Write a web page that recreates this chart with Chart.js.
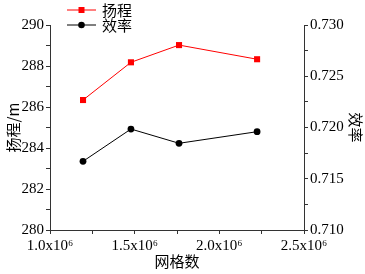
<!DOCTYPE html>
<html>
<head>
<meta charset="utf-8">
<script src="https://cdn.jsdelivr.net/npm/chart.js@4"></script>
<style>
  html,body{margin:0;padding:0;background:#fff;}
  #wrap{width:365px;height:274px;position:relative;}
</style>
</head>
<body>
<div id="wrap"><canvas id="chart"></canvas></div>
<script>
// grid counts and results
const gridCounts = [1.195e6, 1.478e6, 1.762e6, 2.223e6];
const headValues = [286.34, 288.18, 289.02, 288.33];
const effValues = [0.7167, 0.71985, 0.71846, 0.71959];
const seriesNames = ['扬程', '效率'];
const axisTitles = {x: '网格数', y: '扬程/m', y2: '效率'};

const serif = "'Liberation Serif', 'DejaVu Serif', serif";
const cjk = "'Noto Sans CJK SC', sans-serif";

// legend drawn as line + marker like the original
const legendPlugin = {
  id: 'lineLegend',
  afterDraw(chart){
    const ctx = chart.ctx;
    const items = chart.data.datasets;
    ctx.save();
    items.forEach((ds, i) => {
      const y = 10 + i * 15;
      ctx.strokeStyle = ds.borderColor;
      ctx.lineWidth = 1;
      ctx.beginPath();
      ctx.moveTo(67, y); ctx.lineTo(96, y);
      ctx.stroke();
      ctx.fillStyle = ds.pointBackgroundColor;
      ctx.beginPath();
      if(ds.pointStyle === 'rect') ctx.rect(81.5 - 3, y - 3, 6, 6);
      else ctx.arc(81.5, y, 3.3, 0, Math.PI * 2);
      ctx.fill();
      ctx.fillStyle = '#000';
      ctx.font = '15px ' + cjk;
      ctx.textBaseline = 'middle';
      ctx.fillText(ds.label, 102, y);
    });
    ctx.restore();
  }
};

const toPts = (ys) => gridCounts.map((x, i) => ({x: x, y: ys[i]}));

new Chart(document.getElementById('chart'), {
  type: 'scatter',
  data: {
    datasets: [{
      label: seriesNames[0],
      data: toPts(headValues),
      yAxisID: 'y',
      showLine: true,
      borderColor: '#ff0000',
      backgroundColor: '#ff0000',
      pointBackgroundColor: '#ff0000',
      pointBorderWidth: 0,
      pointStyle: 'rect',
      pointRadius: 4.3,
      borderWidth: 1
    },{
      label: seriesNames[1],
      data: toPts(effValues),
      yAxisID: 'y2',
      showLine: true,
      borderColor: '#000',
      backgroundColor: '#000',
      pointBackgroundColor: '#000',
      pointBorderWidth: 0,
      pointStyle: 'circle',
      pointRadius: 3.4,
      borderWidth: 1
    }]
  },
  options: {
    responsive: true,
    maintainAspectRatio: false,
    animation: false,
    layout: {padding: {top: 25, left: 0, right: 0, bottom: 0}},
    plugins: {legend: {display: false}, tooltip: {enabled: false}},
    scales: {
      x: {
        type: 'linear', min: 1e6, max: 2.5e6,
        afterFit(s){ s.height = 44; },
        border: {color: '#333', width: 1},
        grid: {drawOnChartArea: false, tickLength: 4, color: '#333'},
        ticks: {
          stepSize: 250000, maxRotation: 0, padding: 3, autoSkip: false,
          color: '#000', font: {family: serif, size: 15},
          callback: v => (v % 500000 === 0) ? (v / 1e6).toFixed(1) + 'x10⁶' : ''
        },
        title: {display: true, text: axisTitles.x, color: '#000', font: {family: cjk, size: 15}, padding: {top: 2}}
      },
      y: {
        position: 'left', min: 280, max: 290,
        afterFit(s){ s.width = 50; },
        border: {color: '#333', width: 1},
        grid: {drawOnChartArea: false, tickLength: 4, color: '#333'},
        ticks: {
          stepSize: 1, padding: 2, autoSkip: false,
          color: '#000', font: {family: serif, size: 15},
          callback: v => (v % 2 === 0) ? String(v) : ''
        },
        title: {display: true, text: axisTitles.y, color: '#000', font: {family: cjk, size: 15}, padding: {bottom: 0}}
      },
      y2: {
        position: 'right', min: 0.71, max: 0.73,
        afterFit(s){ s.width = 61; },
        border: {color: '#333', width: 1},
        grid: {drawOnChartArea: false, tickLength: 4, color: '#333'},
        ticks: {
          stepSize: 0.0025, padding: 2, autoSkip: false,
          color: '#000', font: {family: serif, size: 15},
          callback: v => (Math.round(v * 10000) % 50 === 0) ? v.toFixed(3) : ''
        },
        title: {display: true, text: axisTitles.y2, color: '#000', font: {family: cjk, size: 15}, padding: {top: 0}}
      }
    }
  },
  plugins: [legendPlugin]
});
</script>
</body>
</html>
